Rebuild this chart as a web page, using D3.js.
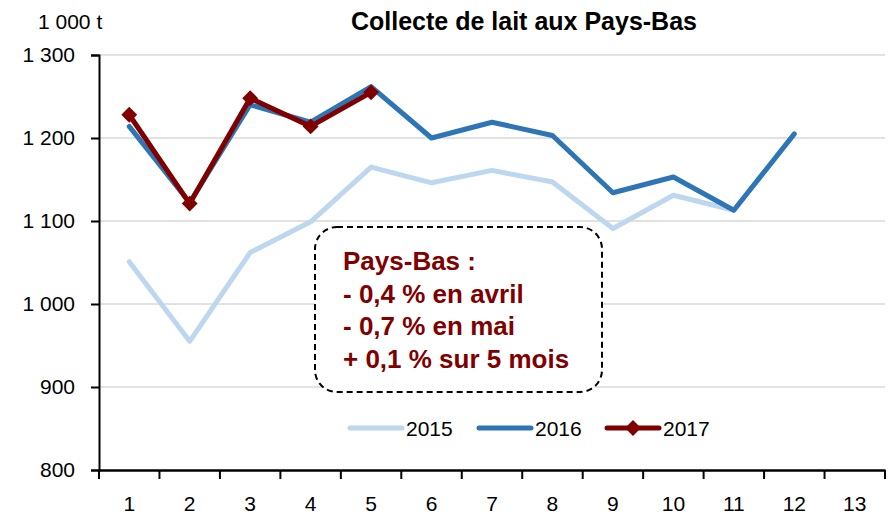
<!DOCTYPE html>
<html>
<head>
<meta charset="utf-8">
<script src="https://cdn.jsdelivr.net/npm/d3@7"></script>
<style>
  body { margin: 0; background: #fff; }
  svg { display: block; font-family: "Liberation Sans", Arial, sans-serif; }
</style>
</head>
<body>
<svg id="chart" width="891" height="516"></svg>
<script>
const months = [1, 2, 3, 4, 5, 6, 7, 8, 9, 10, 11, 12, 13];
const yTicks = [800, 900, 1000, 1100, 1200, 1300];

const values2015 = [1051, 955, 1062, 1099, 1165, 1146, 1161, 1147, 1091, 1131, 1113];
const values2016 = [1214, 1122, 1240, 1219, 1262, 1200, 1219, 1203, 1134, 1153, 1113, 1205];
const values2017 = [1228, 1121, 1248, 1214, 1255];

const seriesNames = ['2015', '2016', '2017'];
const seriesColors = ['#bdd7ee', '#2e75b6', '#800000'];

const noteLines = ['Pays-Bas :', '- 0,4 % en avril', '- 0,7 % en mai', '+ 0,1 % sur 5 mois'];

const margin = { top: 55, right: 5, bottom: 46, left: 99 };
const width = 891 - margin.left - margin.right;
const height = 516 - margin.top - margin.bottom;

const svg = d3.select('#chart');
const g = svg.append('g').attr('transform', `translate(${margin.left}, ${margin.top})`);

const xBand = d3.scaleBand().domain(months).range([0, width - 1]);
const x = m => xBand(m) + xBand.bandwidth() / 2;
const y = d3.scaleLinear().domain([800, 1300]).range([height, 0]);

// gridlines
g.append('g')
    .selectAll('line')
    .data(yTicks.filter(t => t > 800))
    .join('line')
    .attr('x1', 0)
    .attr('x2', width - 1)
    .attr('y1', d => y(d))
    .attr('y2', d => y(d))
    .attr('stroke', '#d9d9d9')
    .attr('stroke-width', 1.5);

// note box
const box = g.append('g');
box.append('rect')
    .attr('x', 216)
    .attr('y', 172)
    .attr('width', 287)
    .attr('height', 165)
    .attr('rx', 22)
    .attr('fill', '#fff')
    .attr('stroke', '#000')
    .attr('stroke-width', 2)
    .attr('stroke-dasharray', '6,4');
box.append('g')
    .selectAll('text')
    .data(noteLines)
    .join('text')
    .attr('x', 244)
    .attr('y', (d, i) => 215 + i * 32.5)
    .attr('fill', '#800000')
    .attr('font-weight', 'bold')
    .attr('font-size', 26)
    .text(d => d);

// axes
const yAxis = g.append('g')
    .call(d3.axisLeft(y).tickValues(yTicks).tickSize(8).tickPadding(16)
        .tickFormat(d => d3.format(',')(d).replace(',', ' ')));
yAxis.select('.domain').attr('stroke-width', 2);
yAxis.selectAll('.tick line').attr('stroke-width', 2);
yAxis.selectAll('text').attr('font-size', 21).attr('fill', '#000')
    .attr('font-family', '"Liberation Sans", Arial, sans-serif');

const xAxis = g.append('g')
    .attr('transform', `translate(0, ${height})`)
    .call(d3.axisBottom(xBand).tickSize(0).tickPadding(26));
xAxis.select('.domain').attr('stroke-width', 2.5);
xAxis.selectAll('text').attr('font-size', 21).attr('fill', '#000')
    .attr('font-family', '"Liberation Sans", Arial, sans-serif');
xAxis.append('g')
    .selectAll('line')
    .data(months.concat([14]))
    .join('line')
    .attr('x1', (d, i) => i < months.length ? xBand(d) : width - 1)
    .attr('x2', (d, i) => i < months.length ? xBand(d) : width - 1)
    .attr('y1', 0)
    .attr('y2', 9)
    .attr('stroke', '#000')
    .attr('stroke-width', 2);

// lines
const line = d3.line()
    .x((d, i) => x(months[i]))
    .y(d => y(d));

const allSeries = [values2015, values2016, values2017];
g.append('g')
    .selectAll('path')
    .data(allSeries)
    .join('path')
    .attr('fill', 'none')
    .attr('stroke', (d, i) => seriesColors[i])
    .attr('stroke-width', 5)
    .attr('stroke-linejoin', 'round')
    .attr('stroke-linecap', 'round')
    .attr('d', line);

const diamond = d3.symbol().type(d3.symbolDiamond2).size(160);
g.append('g')
    .selectAll('path')
    .data(values2017)
    .join('path')
    .attr('transform', (d, i) => `translate(${x(months[i])}, ${y(d)})`)
    .attr('d', diamond)
    .attr('fill', seriesColors[2]);

// legend
const legendX = [350, 479, 607];
const legend = svg.append('g');
seriesNames.forEach((name, i) => {
    legend.append('line')
        .attr('x1', legendX[i]).attr('x2', legendX[i] + 52)
        .attr('y1', 428).attr('y2', 428)
        .attr('stroke', seriesColors[i])
        .attr('stroke-width', 5)
        .attr('stroke-linecap', 'round');
    if (i === 2) {
        legend.append('path')
            .attr('transform', `translate(${legendX[i] + 26}, 428)`)
            .attr('d', diamond)
            .attr('fill', seriesColors[i]);
    }
    legend.append('text')
        .attr('x', legendX[i] + 56)
        .attr('y', 436)
        .attr('font-size', 21)
        .text(name);
});

// title and unit
svg.append('text')
    .attr('x', 524)
    .attr('y', 30)
    .attr('text-anchor', 'middle')
    .attr('font-weight', 'bold')
    .attr('font-size', 25)
    .text('Collecte de lait aux Pays-Bas');

svg.append('text')
    .attr('x', 38)
    .attr('y', 29)
    .attr('font-size', 21)
    .text('1 000 t');
</script>
</body>
</html>
